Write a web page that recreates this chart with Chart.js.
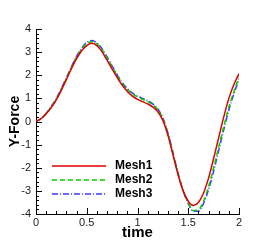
<!DOCTYPE html>
<html>
<head>
<meta charset="utf-8">
<script src="https://cdn.jsdelivr.net/npm/chart.js@4"></script>
<style>
  html, body { margin: 0; padding: 0; background: #fff; }
  #wrap { width: 273px; height: 242px; }
</style>
</head>
<body>
<div id="wrap"><canvas id="forceChart" width="273" height="242"></canvas></div>
<script>
const time = [0, 0.05, 0.1, 0.15, 0.2, 0.25, 0.3, 0.35, 0.4, 0.45, 0.5, 0.55, 0.6, 0.65, 0.7, 0.75, 0.8, 0.85, 0.9, 0.95,
  1, 1.05, 1.1, 1.15, 1.2, 1.25, 1.3, 1.35, 1.4, 1.45, 1.5, 1.55, 1.6, 1.65, 1.7, 1.75, 1.8, 1.85, 1.9, 1.95, 2];
const mesh1 = [0, 0.12, 0.33, 0.6, 0.94, 1.36, 1.82, 2.3, 2.72, 3.06, 3.28, 3.38, 3.28, 3.02, 2.65, 2.27, 1.9, 1.57, 1.3, 1.1,
  0.96, 0.86, 0.76, 0.63, 0.42, 0.05, -0.6, -1.45, -2.3, -3.0, -3.45, -3.63, -3.5, -3.1, -2.45, -1.6, -0.7, 0.2, 1.0, 1.6, 2.07];
const mesh2 = [0, 0.13, 0.35, 0.63, 0.98, 1.4, 1.87, 2.35, 2.78, 3.13, 3.37, 3.45, 3.36, 3.11, 2.75, 2.36, 1.98, 1.64, 1.38, 1.19,
  1.06, 0.96, 0.86, 0.72, 0.5, 0.12, -0.53, -1.38, -2.27, -3.0, -3.52, -3.85, -3.82, -3.45, -2.82, -2.0, -1.1, -0.22, 0.62, 1.3, 1.9];
const mesh3 = [0, 0.13, 0.36, 0.65, 1.0, 1.43, 1.9, 2.38, 2.82, 3.17, 3.42, 3.5, 3.4, 3.15, 2.79, 2.4, 2.02, 1.68, 1.42, 1.23,
  1.1, 1.0, 0.9, 0.76, 0.54, 0.15, -0.5, -1.35, -2.25, -3.0, -3.55, -3.88, -3.88, -3.55, -2.95, -2.15, -1.25, -0.35, 0.5, 1.2, 1.83];
const seriesNames = ["Mesh1", "Mesh2", "Mesh3"];

const pts = (ys) => time.map((t, i) => ({ x: t, y: ys[i] }));

// tecplot style: ticks point into the plot, plus minor ticks
const innerTicks = {
  id: "innerTicks",
  afterDraw(chart) {
    const { ctx, chartArea, scales } = chart;
    ctx.save();
    ctx.strokeStyle = "#000";
    ctx.lineWidth = 1;
    ctx.beginPath();
    for (let i = 0; i <= 20; i++) {
      const v = i / 10;
      const px = Math.round(scales.x.getPixelForValue(v)) + 0.5;
      const len = i % 5 === 0 ? 6 : 3;
      ctx.moveTo(px, chartArea.bottom);
      ctx.lineTo(px, chartArea.bottom - len);
    }
    for (let i = 0; i <= 40; i++) {
      const v = -4 + i / 5;
      const py = Math.round(scales.y.getPixelForValue(v)) + 0.5;
      const len = i % 5 === 0 ? 6 : 3;
      ctx.moveTo(chartArea.left, py);
      ctx.lineTo(chartArea.left + len, py);
    }
    ctx.stroke();

    // legend inside the plot
    const x0 = 52, x1 = 106;
    const rows = [166, 180, 194];
    chart.data.datasets.forEach((ds, i) => {
      ctx.beginPath();
      ctx.strokeStyle = ds.borderColor;
      ctx.lineWidth = ds.borderWidth;
      ctx.setLineDash(ds.borderDash || []);
      ctx.moveTo(x0, rows[i]);
      ctx.lineTo(x1, rows[i]);
      ctx.stroke();
      ctx.setLineDash([]);
      ctx.fillStyle = "#000";
      ctx.font = "bold 12px 'Liberation Sans', Arial, sans-serif";
      ctx.textBaseline = "middle";
      ctx.fillText(ds.label, 115, rows[i]);
    });
    ctx.restore();
  }
};

new Chart(document.getElementById("forceChart"), {
  type: "line",
  data: {
    datasets: [
      { label: seriesNames[0], data: pts(mesh1), borderColor: "#e00000", borderWidth: 1.5, pointRadius: 0, cubicInterpolationMode: "monotone" },
      { label: seriesNames[1], data: pts(mesh2), borderColor: "#00d000", borderWidth: 1.5, borderDash: [5, 3], pointRadius: 0, cubicInterpolationMode: "monotone" },
      { label: seriesNames[2], data: pts(mesh3), borderColor: "#3a3aff", borderWidth: 1.5, borderDash: [6, 2, 1, 2], pointRadius: 0, cubicInterpolationMode: "monotone" },
    ],
  },
  options: {
    responsive: false,
    animation: false,
    events: [],
    layout: { padding: { top: 29, right: 34, left: 0, bottom: 0 } },
    scales: {
      x: {
        type: "linear",
        min: 0,
        max: 2,
        afterFit: (s) => { s.height = 28; },
        grid: { display: false, drawTicks: false },
        border: { display: true, color: "#000", width: 1 },
        ticks: {
          stepSize: 0.5,
          padding: 2,
          color: "#222",
          font: { family: "'Liberation Sans', Arial, sans-serif", size: 11 },
          maxRotation: 0,
          callback: (v) => String(v),
        },
        title: {
          display: true,
          text: "time",
          color: "#000",
          padding: 0,
          font: { family: "'Liberation Sans', Arial, sans-serif", size: 15, weight: "bold" },
        },
      },
      y: {
        min: -4,
        max: 4,
        afterFit: (s) => { s.width = 36; },
        grid: { display: false, drawTicks: false },
        border: { display: true, color: "#000", width: 1 },
        ticks: {
          stepSize: 1,
          padding: 5,
          color: "#222",
          font: { family: "'Liberation Sans', Arial, sans-serif", size: 11 },
        },
        title: {
          display: true,
          text: "Y-Force",
          color: "#000",
          padding: { top: 7, bottom: 0 },
          font: { family: "'Liberation Sans', Arial, sans-serif", size: 14, weight: "bold" },
        },
      },
    },
    plugins: {
      legend: { display: false },
      tooltip: { enabled: false },
    },
  },
  plugins: [innerTicks],
});
</script>
</body>
</html>
